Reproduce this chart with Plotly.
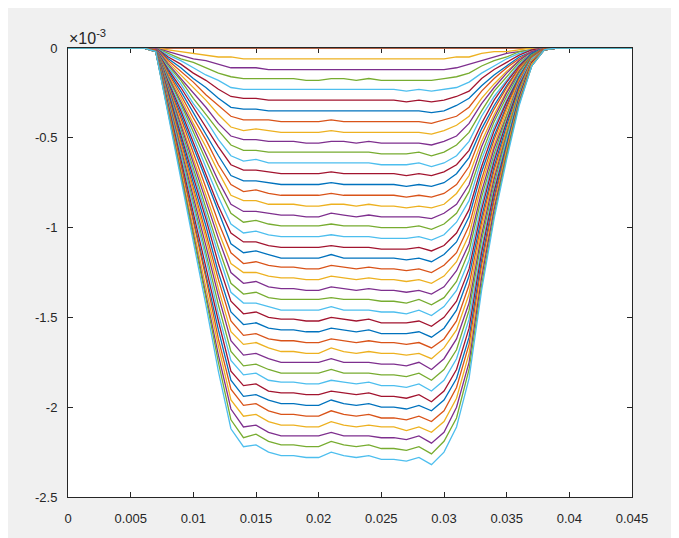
import plotly.graph_objects as go

# x positions (m)
x_m = [0,0.001,0.002,0.003,0.004,0.005,0.006,0.007,0.008,0.009,0.010,0.011,0.012,0.013,0.014,0.015,
       0.016,0.017,0.018,0.019,0.020,0.021,0.022,0.023,0.024,0.025,0.026,0.027,0.028,0.029,0.030,
       0.031,0.032,0.033,0.034,0.035,0.036,0.037,0.038,0.039,0.040,0.041,0.042,0.043,0.044,0.045]

# curve values in units of 1e-5
curve_00 = [0]*46
curve_01 = [0]*46
curve_02 = [0,0,0,0,0,0,0, 0,-1,-2,-3,-4,-5,-5, -6,-6,-6,-6,-6,-6,-6,-6,-6,-6,-6,-6,-6,-6,-6,-6,-6, -5,-5,-3,-2,-2,-1,0,0, 0,0,0,0,0,0,0]
curve_03 = [0,0,0,0,0,0,0, 0,-2,-4,-6,-7,-9,-11, -11,-11,-12,-12,-12,-12,-12,-12,-12,-12,-12,-12,-12,-12,-12,-12,-12, -11,-9,-7,-5,-3,-2,-1,0, 0,0,0,0,0,0,0]
curve_04 = [0,0,0,0,0,0,0, 0,-3,-6,-8,-11,-14,-16, -17,-17,-17,-17,-17,-18,-18,-17,-17,-18,-17,-18,-18,-18,-18,-18,-17, -16,-14,-10,-7,-5,-2,-1,0, 0,0,0,0,0,0,0]
curve_05 = [0,0,0,0,0,0,0, 0,-4,-7,-11,-15,-18,-22, -23,-23,-23,-23,-23,-23,-23,-23,-23,-23,-23,-23,-23,-24,-23,-24,-23, -22,-19,-14,-10,-6,-3,-1,0, 0,0,0,0,0,0,0]
curve_06 = [0,0,0,0,0,0,0, 0,-5,-9,-14,-18,-23,-27, -28,-28,-29,-29,-29,-29,-29,-29,-29,-29,-29,-29,-29,-30,-29,-30,-29, -27,-24,-17,-12,-8,-4,-1,0, 0,0,0,0,0,0,0]
curve_07 = [0,0,0,0,0,0,0, 0,-6,-11,-17,-22,-28,-33, -34,-34,-35,-35,-35,-35,-35,-35,-35,-35,-35,-35,-35,-35,-35,-36,-35, -32,-28,-21,-15,-10,-5,-2,0, 0,0,0,0,0,0,0]
curve_08 = [0,0,0,0,0,0,0, 0,-7,-13,-19,-26,-32,-38, -40,-40,-40,-41,-41,-41,-41,-40,-41,-41,-41,-41,-41,-41,-41,-42,-40, -38,-33,-24,-17,-11,-6,-2,0, 0,0,0,0,0,0,0]
curve_09 = [0,0,0,0,0,0,0, 0,-8,-15,-22,-29,-37,-44, -46,-45,-46,-47,-47,-47,-47,-46,-47,-47,-47,-47,-47,-47,-47,-48,-46, -43,-38,-28,-20,-13,-7,-2,0, 0,0,0,0,0,0,0]
curve_10 = [0,0,0,0,0,0,0, 0,-9,-17,-25,-33,-42,-49, -51,-51,-52,-52,-52,-53,-53,-52,-52,-53,-52,-53,-53,-53,-53,-54,-52, -49,-42,-31,-22,-14,-7,-2,0, 0,0,0,0,0,0,0]
curve_11 = [0,0,0,0,0,0,0, -1,-10,-18,-28,-37,-46,-54, -57,-57,-58,-58,-58,-58,-58,-58,-58,-58,-58,-59,-59,-59,-58,-60,-58, -54,-47,-35,-24,-16,-8,-3,0, 0,0,0,0,0,0,0]
curve_12 = [0,0,0,0,0,0,0, -1,-11,-20,-31,-40,-51,-60, -63,-62,-64,-64,-64,-64,-64,-64,-64,-64,-64,-65,-65,-65,-64,-66,-64, -60,-52,-38,-27,-18,-9,-3,0, 0,0,0,0,0,0,0]
curve_13 = [0,0,0,0,0,0,0, -1,-12,-22,-33,-44,-55,-65, -68,-68,-69,-70,-70,-70,-70,-69,-70,-70,-70,-70,-70,-71,-70,-71,-69, -65,-57,-42,-29,-19,-10,-3,0, 0,0,0,0,0,0,0]
curve_14 = [0,0,0,0,0,0,0, -1,-13,-24,-36,-48,-60,-71, -74,-74,-75,-76,-76,-76,-76,-75,-76,-76,-76,-76,-76,-77,-76,-77,-75, -70,-61,-45,-32,-21,-11,-3,0, 0,0,0,0,0,0,0]
curve_15 = [0,0,0,0,0,0,0, -1,-14,-26,-39,-51,-65,-76, -80,-79,-81,-82,-82,-82,-82,-81,-82,-82,-82,-82,-82,-83,-82,-83,-81, -76,-66,-48,-34,-22,-11,-4,0, 0,0,0,0,0,0,0]
curve_16 = [0,0,0,0,0,0,0, -1,-15,-28,-42,-55,-69,-82, -85,-85,-87,-87,-87,-88,-88,-87,-87,-88,-87,-88,-88,-89,-88,-89,-87, -81,-71,-52,-37,-24,-12,-4,0, 0,0,0,0,0,0,0]
curve_17 = [0,0,0,0,0,0,0, -1,-16,-30,-44,-59,-74,-87, -91,-91,-92,-93,-93,-94,-94,-92,-93,-94,-93,-94,-94,-94,-94,-95,-92, -87,-76,-55,-39,-25,-13,-4,0, 0,0,0,0,0,0,0]
curve_18 = [0,0,0,0,0,0,0, -1,-17,-31,-47,-62,-78,-92, -97,-96,-98,-99,-99,-99,-99,-98,-99,-99,-99,-100,-100,-100,-99,-101,-98, -92,-80,-59,-41,-27,-14,-4,0, 0,0,0,0,0,0,0]
curve_19 = [0,0,0,0,0,0,0, -1,-18,-33,-50,-66,-83,-98, -103,-102,-104,-105,-105,-105,-105,-104,-105,-105,-105,-106,-106,-106,-105,-107,-104, -97,-85,-62,-44,-29,-15,-5,0, 0,0,0,0,0,0,0]
curve_20 = [0,0,0,0,0,0,0, -1,-19,-35,-53,-70,-88,-103, -108,-108,-110,-111,-111,-111,-111,-110,-111,-111,-111,-112,-112,-112,-111,-113,-110, -103,-90,-66,-46,-30,-16,-5,0, 0,0,0,0,0,0,0]
curve_21 = [0,0,0,0,0,0,0, -1,-20,-37,-55,-73,-92,-109, -114,-113,-115,-117,-117,-117,-117,-115,-117,-117,-117,-117,-117,-118,-117,-119,-115, -108,-94,-69,-49,-32,-16,-5,0, 0,0,0,0,0,0,0]
curve_22 = [0,0,0,0,0,0,0, -1,-21,-39,-58,-77,-97,-114, -120,-119,-121,-122,-122,-123,-123,-121,-122,-123,-122,-123,-123,-124,-123,-125,-121, -114,-99,-73,-51,-33,-17,-5,0, 0,0,0,0,0,0,0]
curve_23 = [0,0,0,0,0,0,0, -1,-21,-41,-61,-81,-102,-120, -125,-125,-127,-128,-128,-129,-129,-127,-128,-129,-128,-129,-129,-130,-129,-131,-127, -119,-104,-76,-54,-35,-18,-6,-1, 0,0,0,0,0,0,0]
curve_24 = [0,0,0,0,0,0,0, -1,-22,-43,-64,-84,-106,-125, -131,-130,-133,-134,-134,-135,-135,-133,-134,-135,-134,-135,-135,-136,-135,-137,-133, -124,-109,-80,-56,-37,-19,-6,-1, 0,0,0,0,0,0,0]
curve_25 = [0,0,0,0,0,0,0, -1,-23,-44,-67,-88,-111,-131, -137,-136,-139,-140,-140,-140,-140,-139,-140,-140,-140,-141,-141,-142,-140,-143,-139, -130,-113,-83,-59,-38,-20,-6,-1, 0,0,0,0,0,0,0]
curve_26 = [0,0,0,0,0,0,0, -1,-24,-46,-69,-92,-115,-136, -142,-142,-144,-146,-146,-146,-146,-144,-146,-146,-146,-147,-147,-148,-146,-149,-144, -135,-118,-87,-61,-40,-20,-6,-1, 0,0,0,0,0,0,0]
curve_27 = [0,0,0,0,0,0,0, -1,-25,-48,-72,-95,-120,-141, -148,-147,-150,-151,-151,-152,-152,-150,-151,-152,-151,-153,-153,-153,-152,-155,-150, -141,-123,-90,-63,-41,-21,-7,-1, 0,0,0,0,0,0,0]
curve_28 = [0,0,0,0,0,0,0, -1,-26,-50,-75,-99,-125,-147, -154,-153,-156,-157,-157,-158,-158,-156,-157,-158,-157,-159,-159,-159,-158,-161,-156, -146,-127,-94,-66,-43,-22,-7,-1, 0,0,0,0,0,0,0]
curve_29 = [0,0,0,0,0,0,0, -1,-27,-52,-78,-103,-129,-152, -160,-159,-162,-163,-163,-164,-164,-162,-163,-164,-163,-164,-164,-165,-164,-167,-162, -152,-132,-97,-68,-45,-23,-7,-1, 0,0,0,0,0,0,0]
curve_30 = [0,0,0,0,0,0,0, -2,-28,-54,-80,-106,-134,-158, -165,-164,-167,-169,-169,-170,-170,-167,-169,-170,-169,-170,-170,-171,-170,-173,-167, -157,-137,-100,-71,-46,-24,-7,-1, 0,0,0,0,0,0,0]
curve_31 = [0,0,0,0,0,0,0, -2,-29,-55,-83,-110,-138,-163, -171,-170,-173,-175,-175,-175,-175,-173,-175,-175,-175,-176,-176,-177,-175,-179,-173, -162,-142,-104,-73,-48,-25,-8,-1, 0,0,0,0,0,0,0]
curve_32 = [0,0,0,0,0,0,0, -2,-30,-57,-86,-114,-143,-169, -177,-176,-179,-181,-181,-181,-181,-179,-181,-181,-181,-182,-182,-183,-181,-185,-179, -168,-146,-107,-76,-49,-25,-8,-1, 0,0,0,0,0,0,0]
curve_33 = [0,0,0,0,0,0,0, -2,-31,-59,-89,-117,-148,-174, -182,-181,-185,-186,-186,-187,-187,-185,-186,-187,-186,-188,-188,-189,-187,-191,-185, -173,-151,-111,-78,-51,-26,-8,-1, 0,0,0,0,0,0,0]
curve_34 = [0,0,0,0,0,0,0, -2,-32,-61,-92,-121,-152,-180, -188,-187,-191,-192,-192,-193,-193,-191,-192,-193,-192,-194,-194,-195,-193,-197,-191, -179,-156,-114,-80,-53,-27,-8,-1, 0,0,0,0,0,0,0]
curve_35 = [0,0,0,0,0,0,0, -2,-33,-63,-94,-125,-157,-185, -194,-193,-196,-198,-198,-199,-199,-196,-198,-199,-198,-200,-200,-201,-199,-202,-196, -184,-161,-118,-83,-54,-28,-9,-1, 0,0,0,0,0,0,0]
curve_36 = [0,0,0,0,0,0,0, -2,-34,-65,-97,-128,-162,-190, -199,-198,-202,-204,-204,-205,-205,-202,-204,-205,-204,-206,-206,-207,-205,-208,-202, -189,-165,-121,-85,-56,-29,-9,-1, 0,0,0,0,0,0,0]
curve_37 = [0,0,0,0,0,0,0, -2,-35,-67,-100,-132,-166,-196, -205,-204,-208,-210,-210,-211,-211,-208,-210,-211,-210,-211,-211,-213,-211,-214,-208, -195,-170,-125,-88,-57,-29,-9,-1, 0,0,0,0,0,0,0]
curve_38 = [0,0,0,0,0,0,0, -2,-36,-68,-103,-136,-171,-201, -211,-210,-214,-216,-216,-216,-216,-214,-216,-216,-216,-217,-217,-218,-216,-220,-214, -200,-175,-128,-90,-59,-30,-10,-1, 0,0,0,0,0,0,0]
curve_39 = [0,0,0,0,0,0,0, -2,-37,-70,-105,-139,-175,-207, -217,-215,-219,-221,-221,-222,-222,-219,-221,-222,-221,-223,-223,-224,-222,-226,-219, -206,-179,-132,-93,-60,-31,-10,-1, 0,0,0,0,0,0,0]
curve_40 = [0,0,0,0,0,0,0, -2,-38,-72,-108,-143,-180,-212, -222,-221,-225,-227,-227,-228,-228,-225,-227,-228,-227,-229,-229,-230,-228,-232,-225, -211,-184,-135,-95,-62,-32,-10,-1, 0,0,0,0,0,0,0]

curves = [curve_00, curve_01, curve_02, curve_03, curve_04, curve_05, curve_06, curve_07, curve_08,
          curve_09, curve_10, curve_11, curve_12, curve_13, curve_14, curve_15, curve_16, curve_17,
          curve_18, curve_19, curve_20, curve_21, curve_22, curve_23, curve_24, curve_25, curve_26,
          curve_27, curve_28, curve_29, curve_30, curve_31, curve_32, curve_33, curve_34, curve_35,
          curve_36, curve_37, curve_38, curve_39, curve_40]

x_tick_vals = [0, 0.005, 0.01, 0.015, 0.02, 0.025, 0.03, 0.035, 0.04, 0.045]
x_tick_text = ["0", "0.005", "0.01", "0.015", "0.02", "0.025", "0.03", "0.035", "0.04", "0.045"]
y_tick_vals = [0, -0.0005, -0.001, -0.0015, -0.002, -0.0025]
y_tick_text = ["0", "-0.5", "-1", "-1.5", "-2", "-2.5"]

line_colors = ["#0072BD", "#D95319", "#EDB120", "#7E2F8E", "#77AC30", "#4DBEEE", "#A2142F"]

fig = go.Figure()
for i, c in enumerate(curves):
    fig.add_trace(go.Scatter(
        x=x_m, y=[v * 1e-5 for v in c], mode="lines",
        line=dict(color=line_colors[i % 7], width=1.3),
        hoverinfo="skip", showlegend=False))

font = dict(family="Liberation Sans, Arial, sans-serif", size=13, color="#262626")
axis_common = dict(showline=True, linecolor="#262626", linewidth=1, mirror="ticks",
                   ticks="inside", ticklen=5, tickwidth=1, tickcolor="#262626",
                   showgrid=False, zeroline=False, tickfont=font, layer="below traces")

fig.update_layout(
    width=679, height=538,
    margin=dict(l=60, r=55, t=40, b=49),
    paper_bgcolor="#f0f0f0", plot_bgcolor="white",
    showlegend=False,
    xaxis=dict(range=[0, 0.045], tickvals=x_tick_vals, ticktext=x_tick_text,
               ticklabelstandoff=9, **axis_common),
    yaxis=dict(range=[-0.0025, 0], tickvals=y_tick_vals, ticktext=y_tick_text,
               ticklabelstandoff=7, **axis_common),
    annotations=[
        dict(text="×10<sup>-3</sup>", xref="paper", yref="paper", x=0, y=1.0,
             xanchor="left", yanchor="bottom", showarrow=False, borderpad=0,
             font=dict(family="Liberation Sans, Arial, sans-serif", size=16, color="#262626"))
    ],
)

fig.write_html("out.html")
